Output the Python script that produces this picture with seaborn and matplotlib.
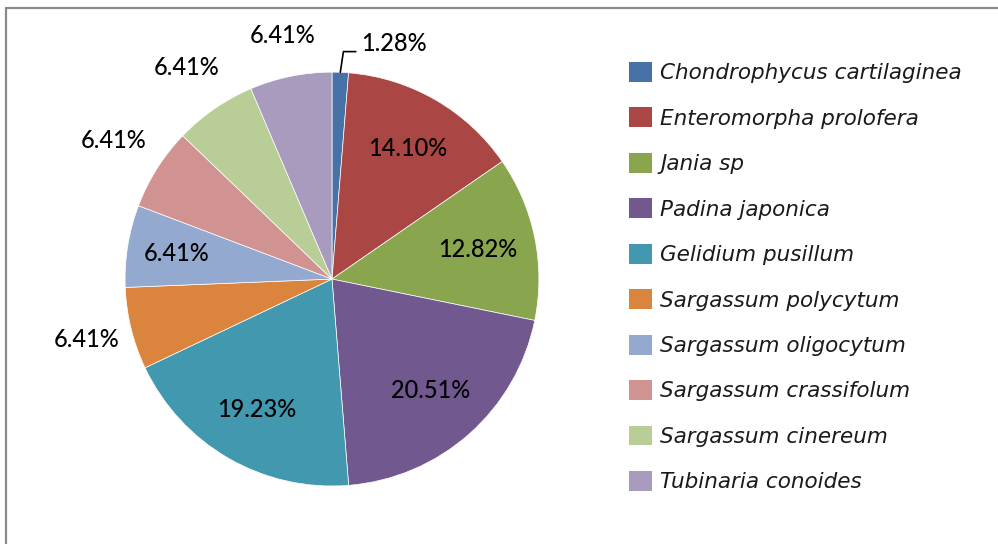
import numpy as np
import pandas as pd
import seaborn as sns
import matplotlib.pyplot as plt
from matplotlib.lines import Line2D
from matplotlib.patches import Patch

species = [
    "Chondrophycus cartilaginea",
    "Enteromorpha prolofera",
    "Jania sp",
    "Padina japonica",
    "Gelidium pusillum",
    "Sargassum polycytum",
    "Sargassum oligocytum",
    "Sargassum crassifolum",
    "Sargassum cinereum",
    "Tubinaria conoides",
]
percents = [1.28, 14.10, 12.82, 20.51, 19.23, 6.41, 6.41, 6.41, 6.41, 6.41]
colors = ["#4672A8", "#AA4643", "#89A54E", "#71588F", "#4198AF",
          "#DB843D", "#93A9CF", "#D19392", "#B9CD96", "#A99BBD"]

# where each percent label sits (fraction of radius), 0 = leader line
labelDist = [0, 0.73, 0.72, 0.72, 0.73, 1.22, 0.76, 1.25, 1.24, 1.2]

df = pd.DataFrame({"species": species, "pct": percents})

sns.set_style("white")
plt.rcParams["font.family"] = ["Lato", "DejaVu Sans"]
plt.rcParams["text.color"] = "black"

fig = plt.figure(figsize=(9.98, 5.44), dpi=100)
ax = fig.add_axes([0.0734, 0.0115, 0.5185, 0.951])

wedges, _ = ax.pie(
    df["pct"],
    colors=colors,
    startangle=90,
    counterclock=False,
    wedgeprops=dict(edgecolor="white", linewidth=0.5),
)
ax.set_xlim(-1.25, 1.25)
ax.set_ylim(-1.25, 1.25)
ax.set_aspect("equal")

for w, p, d in zip(wedges, df["pct"], labelDist):
    ang = np.deg2rad((w.theta1 + w.theta2) / 2)
    txt = "{:.2f}%".format(p)
    if d == 0:
        x0, y0 = np.cos(ang), np.sin(ang)
        x1, y1 = x0 + 0.015, y0 + 0.1
        x2 = x1 + 0.06
        ax.plot([x0, x1, x2], [y0, y1, y1], color="black", lw=1.2, clip_on=False)
        ax.text(x2 + 0.025, y1 + 0.04, txt, ha="left", va="center",
                fontsize=17, fontweight="medium", color="black")
    else:
        ax.text(d * np.cos(ang), d * np.sin(ang), txt, ha="center", va="center",
                fontsize=17, fontweight="medium", color="black")

handles = [Patch(facecolor=c, edgecolor="none") for c in colors]
fig.legend(
    handles,
    species,
    loc="upper left",
    bbox_to_anchor=(629 / 998, 1 - 62 / 544),
    frameon=False,
    prop=dict(family="DejaVu Sans", style="italic", size=15.5),
    labelcolor="#1a1a1a",
    handlelength=1.05,
    handleheight=1.05,
    handletextpad=0.4,
    labelspacing=1.12,
    borderpad=0,
    borderaxespad=0,
)

# chart area border (only left and top visible in the crop)
fig.add_artist(Line2D([6 / 998, 6 / 998], [0, 1 - 8 / 544], color="#8a8a8a", lw=1.6))
fig.add_artist(Line2D([6 / 998, 1], [1 - 8 / 544, 1 - 8 / 544], color="#8a8a8a", lw=1.6))

fig.savefig("out.png", dpi=100)
